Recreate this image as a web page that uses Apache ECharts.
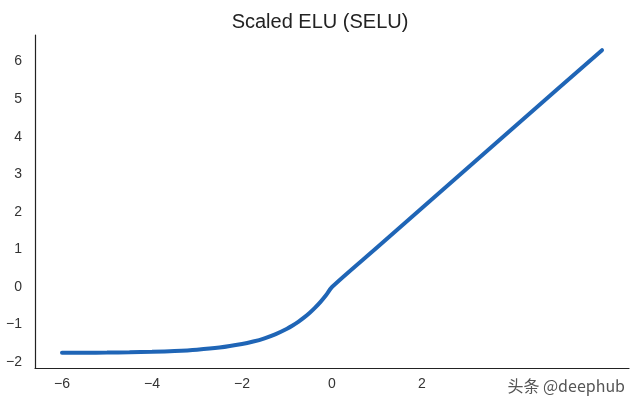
<!DOCTYPE html>
<html><head><meta charset="utf-8">
<script src="https://cdn.jsdelivr.net/npm/echarts@6/dist/echarts.min.js"></script>
<style>html,body{margin:0;padding:0;background:#fff}#c{width:640px;height:402px}</style>
</head><body><div id="c"></div>
<script>
const titleText = 'Scaled ELU (SELU)';
const xValues = [-6, -5.5, -5, -4.5, -4, -3.5, -3, -2.5, -2, -1.75, -1.5, -1.25, -1, -0.875, -0.75, -0.625, -0.5, -0.375, -0.25, -0.125, 0, 1, 2, 3, 4, 5, 6];
const yValues = [-1.754, -1.751, -1.746, -1.739, -1.726, -1.705, -1.671, -1.614, -1.520, -1.453, -1.366, -1.254, -1.111, -1.025, -0.928, -0.817, -0.692, -0.550, -0.389, -0.207, 0, 1.051, 2.101, 3.152, 4.203, 5.254, 6.304];
const xTicks = [-6, -4, -2, 0, 2, 4, 6];
const yTicks = [-2, -1, 0, 1, 2, 3, 4, 5, 6];
const watermark = '头条 @deephub';

const fmt = v => (v < 0 ? '\u2212' + Math.abs(v) : String(v));
const chart = echarts.init(document.getElementById('c'));
chart.setOption({
  animation: false,
  backgroundColor: '#fff',
  title: { text: titleText, left: 'center', top: 7,
    textStyle: { fontFamily: 'Liberation Sans, Arial', fontWeight: 'normal', fontSize: 20, color: '#222' } },
  grid: { left: 35, right: 11, top: 35, bottom: 34, containLabel: false },
  xAxis: { type: 'value', min: -6.6, max: 6.6, interval: 2,
    axisLine: { show: true, onZero: false, lineStyle: { color: '#222', width: 1.2 } },
    axisTick: { show: false }, splitLine: { show: false },
    axisLabel: { color: '#333', fontSize: 14, fontFamily: 'Liberation Sans, Arial', margin: 9,
      customValues: xTicks, formatter: fmt } },
  yAxis: { type: 'value', min: -2.157, max: 6.707,
    axisLine: { show: true, onZero: false, lineStyle: { color: '#222', width: 1.2 } },
    axisTick: { show: false }, splitLine: { show: false },
    axisLabel: { color: '#333', fontSize: 14, fontFamily: 'Liberation Sans, Arial', margin: 13,
      customValues: yTicks, formatter: fmt } },
  series: [{ type: 'line', data: xValues.map((x, i) => [x, yValues[i]]), smooth: 0.3,
    showSymbol: false, lineStyle: { color: '#1f65b6', width: 4, cap: 'round' } }],
  graphic: [{ type: 'text', right: 14, bottom: 7, z: 100,
    style: { text: watermark, fill: '#555', font: '16px "Noto Sans CJK SC", sans-serif',
      backgroundColor: '#fff', padding: [1, 1, 1, 4] } }]
});
</script></body></html>
